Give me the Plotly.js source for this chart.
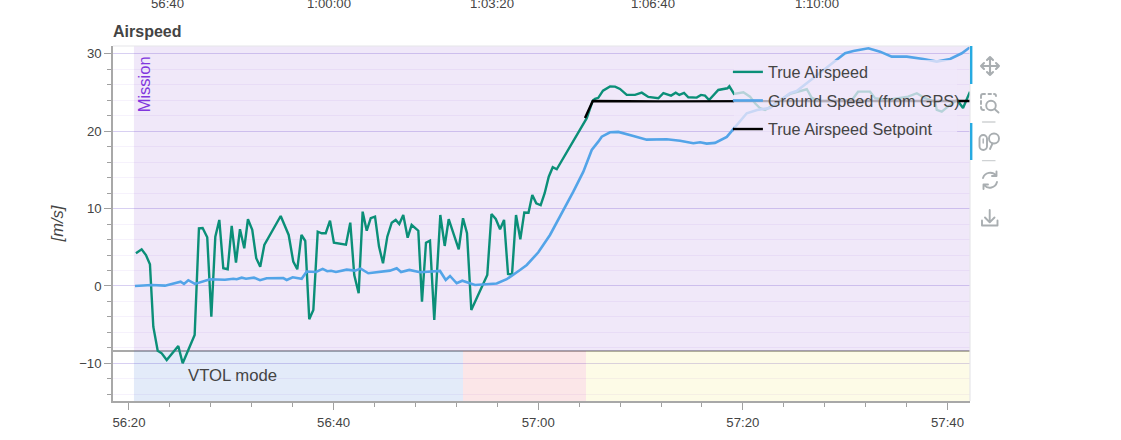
<!DOCTYPE html>
<html>
<head>
<meta charset="utf-8">
<script src="https://cdn.plot.ly/plotly-3.0.1.min.js"></script>
<style>html,body{margin:0;padding:0;background:#fff}#chart{width:1121px;height:440px}</style>
</head>
<body>
<div id="chart"></div>
<script>
// Time in seconds after 56:20
const tasT = [0.68,1.24,1.66,2.05,2.38,2.81,3.2,3.69,4.82,5.25,6.42,6.84,7.2,7.65,8.05,8.44,8.83,9.22,9.65,10.04,10.46,10.85,11.27,11.63,12.05,12.44,12.83,13.23,14.83,15.61,16.06,16.45,16.86,17.23,17.62,18.02,18.45,18.84,19.23,19.65,20.03,21.21,21.63,22.02,22.45,22.84,23.24,23.63,24.05,24.44,24.83,25.25,25.68,26.07,26.42,26.81,27.24,27.63,28.28,28.64,29.03,29.42,29.84,30.43,30.86,31.25,32.23,32.65,33.04,33.46,35.02,35.43,35.85,36.27,36.66,37.05,37.44,37.83,38.25,38.64,39.05,39.42,39.81,40.24,40.63,41.03,41.42,41.81,44.74,45.33,45.55,45.87,46.33,47.02,47.51,47.99,48.65,49.46,50.12,50.76,51.74,52.23,52.98,53.44,53.79,54.25,54.67,55.49,55.91,56.3,56.7,57.6,58.49,58.68,59.14,60.05,60.7,61.19,61.68,62.17,62.85,63.64,64.61,66.25,66.74,67.55,69.5,70.67,71.26,72.43,72.92,74.07,76.15,77.0,77.81,78.79,78.95,79.44,80.25,80.94,81.52,82.2];
const tasV = [4.22,4.74,4.0,2.8,-5.26,-8.36,-8.7,-9.56,-7.75,-9.99,-6.33,7.45,7.49,6.29,-3.97,6.37,8.53,2.29,2.16,7.75,3.01,7.33,4.87,8.62,7.24,3.58,2.49,5.3,9.04,6.59,3.14,2.16,6.59,5.81,-4.29,-3.1,7.02,6.81,6.81,8.44,5.59,5.34,8.18,1.42,-0.94,9.6,7.14,8.75,8.95,5.08,2.93,6.37,8.18,8.53,8.01,9.17,6.24,7.88,7.14,-2.03,5.59,5.85,-4.39,9.17,5.17,8.62,4.74,8.75,6.81,-3.1,1.42,9.3,8.66,7.33,8.53,1.55,1.49,9.17,6.03,9.5,9.47,11.76,10.68,10.43,11.98,14.12,15.34,15.08,21.67,23.94,24.16,24.3,25.23,25.78,25.75,25.45,24.68,24.68,24.97,24.42,24.25,24.9,24.59,24.97,24.68,24.94,24.38,24.33,24.68,24.59,24.03,25.32,25.54,25.8,24.81,25.03,24.46,23.6,22.96,22.74,23.26,24.03,24.81,25.41,24.29,23.9,23.9,24.03,25.1,25.1,24.25,24.03,24.46,24.9,24.25,23.81,22.74,22.52,23.39,24.03,23.0,25.1];
const gpsT = [0.59,2.22,3.52,4.17,5.05,5.38,5.8,6.45,7.11,7.92,9.38,10.2,10.53,11.02,11.44,12.22,12.81,13.46,15.08,15.42,16.0,16.88,17.37,18.28,18.93,19.38,19.75,20.23,21.28,22.09,22.65,23.39,25.51,26.17,26.59,27.4,28.45,30.4,30.96,31.38,32.03,32.58,33.82,35.94,36.92,37.57,38.22,38.88,40.01,41.15,42.3,43.43,44.41,45.23,45.87,46.21,47.02,47.83,49.3,50.6,52.56,53.86,55.16,55.82,56.47,57.28,58.43,59.07,60.38,61.39,62.66,64.61,65.26,66.86,69.18,69.99,70.8,72.27,73.41,74.55,76.02,77.64,78.95,80.25,81.4,82.2];
const gpsV = [0,0.13,0.04,0.3,0.56,0.26,0.74,0.26,0.56,0.87,0.81,0.94,0.87,1.07,0.94,1.07,0.74,1.0,1.03,0.78,1.12,0.92,1.87,1.81,2.2,1.9,1.96,1.81,2.11,1.98,2.24,1.64,1.98,2.29,1.81,2.07,1.77,1.94,0.78,1.29,0.35,0.68,0.13,0.32,0.87,1.42,2.07,2.71,4.35,6.59,9.39,12.18,14.77,17.57,18.64,19.29,19.86,19.9,19.38,18.9,18.95,18.77,18.44,18.57,18.39,18.48,19.25,20.28,22.31,22.74,23.0,24.9,25.19,26.83,29.29,30.06,30.36,30.71,30.27,29.63,29.63,29.33,28.98,29.33,30.06,30.84];
const setT = [44.57,45.33,52,60,70,82.2];
const setV = [21.7,23.9,23.85,23.9,23.9,23.9];

const seriesNames = ['True Airspeed','Ground Speed (from GPS)','True Airspeed Setpoint'];
const seriesColors = ['#0b8f78','#53a4e8','#000000'];
const xTickVals = [0,20,40,60,80];
const xTickText = ['56:20','56:40','57:00','57:20','57:40'];
const yTickVals = [-10,0,10,20,30];
const topLabels = ['56:40','1:00:00','1:03:20','1:06:40','1:10:00'];
const topLabelT = [3.81,19.55,35.5,51.2,67.2];
const modeStart = 0.49, modeEnd = 82.2;
const vtolStages = [[0.49,32.65,'rgba(60,110,215,0.14)'],[32.65,44.67,'rgba(225,60,75,0.13)'],[44.67,82.2,'rgba(240,225,60,0.12)']];
const modeSplit = -8.4;
const FONT = '"Liberation Sans", Arial, sans-serif';

const svg = `<svg xmlns="http://www.w3.org/2000/svg" width="40" height="190" viewBox="972 46 40 190"><g fill="none" stroke="#a9aeb1" stroke-width="1.9" stroke-linecap="round" stroke-linejoin="round">
<path d="M990 57V75M981 66H999M987 60L990 57L993 60M987 72L990 75L993 72M984 63L981 66L984 69M996 63L999 66L996 69" stroke-width="2.1"/>
<path d="M981 98V96Q981 94 983 94H985M988.5 94H991M994 94Q996 94 996 96M981 101V104M981 107Q981 110 983.5 110H984"/>
<circle cx="991" cy="105.5" r="4.8"/><path d="M994.5 109L998.5 112.5"/>
<path d="M982.5 122H995" stroke="#cfd2d4" stroke-width="1.3"/>
<rect x="979.5" y="135" width="7.5" height="15" rx="3.7"/><path d="M983.2 139V143" stroke-width="1.4"/>
<circle cx="994" cy="138.5" r="5"/><path d="M992.5 143.5L990 149"/>
<path d="M982.5 160.7H995" stroke="#cfd2d4" stroke-width="1.3"/>
<path d="M983 178A7.5 7.5 0 0 1 996 175.5M997 182A7.5 7.5 0 0 1 984 185M996.5 171.5V176H992M983.5 189V184.5H988"/>
<path d="M989.7 210V222M985 217.5L989.7 222.3L994.5 217.5M982 220.5V225.5H997.5V220.5"/>
</g></svg>`;

const traces = [
  {x:tasT,y:tasV,name:seriesNames[0],legendgroup:'a',mode:'lines',line:{color:seriesColors[0],width:2.4}},
  {x:gpsT,y:gpsV,name:seriesNames[1],legendgroup:'b',mode:'lines',line:{color:seriesColors[1],width:2.6}},
  {x:setT,y:setV,name:seriesNames[2],legendgroup:'c',mode:'lines',line:{color:seriesColors[2],width:2.4}}
];

const shapes = [
  {type:'rect',layer:'between',xref:'x',yref:'y',x0:modeStart,x1:modeEnd,y0:modeSplit,y1:31,fillcolor:'rgba(128,60,204,0.118)',line:{width:0}}
].concat(vtolStages.map(s=>({type:'rect',layer:'between',xref:'x',yref:'y',x0:s[0],x1:s[1],y0:-14.86,y1:modeSplit,fillcolor:s[2],line:{width:0}}))).concat([
  {type:'line',layer:'between',xref:'paper',yref:'y',x0:0,x1:1,y0:modeSplit,y1:modeSplit,line:{color:'#8c8c8c',width:1.3}},
  {type:'rect',layer:'above',xref:'x',yref:'y',x0:59.14,x1:80.94,y0:18.48,y1:29.2,fillcolor:'rgba(240,232,249,0.75)',line:{width:0}},
  {type:'line',layer:'above',xref:'paper',yref:'paper',x0:0,x1:1,y0:1,y1:1,line:{color:'#e6e6ea',width:1.2}},
  {type:'line',layer:'above',xref:'paper',yref:'paper',x0:1,x1:1,y0:0,y1:1,line:{color:'#e6e6ea',width:1.2}},
  {type:'rect',layer:'above',xref:'paper',yref:'paper',x0:1,x1:1.0028,y0:0.8930,y1:1,fillcolor:'#26aae1',line:{width:0}},
  {type:'rect',layer:'above',xref:'paper',yref:'paper',x0:1,x1:1.0028,y0:0.6789,y1:0.7831,fillcolor:'#26aae1',line:{width:0}}
]);

const annotations = topLabels.map((t,i)=>({text:t,xref:'x',yref:'paper',x:topLabelT[i],y:1.121,showarrow:false,xanchor:'center',yanchor:'middle',font:{family:FONT,size:13.2,color:'#444'}})).concat([
  {text:'Mission',xref:'x',yref:'y',x:1.43,y:26,textangle:-90,showarrow:false,xanchor:'center',yanchor:'middle',font:{family:FONT,size:16.5,color:'#8136dd'}},
  {text:'VTOL mode',xref:'x',yref:'y',x:5.57,y:-11.6,showarrow:false,xanchor:'left',yanchor:'middle',font:{family:FONT,size:16.7,color:'#444'}}
]);

const layout = {
  width:1121,height:440,autosize:false,
  margin:{l:113,r:151,t:46,b:39,pad:0},
  paper_bgcolor:'#fff',plot_bgcolor:'#fff',
  font:{family:FONT,size:13.2,color:'#444'},
  title:{text:'<b>Airspeed</b>',font:{family:FONT,size:16,color:'#444'},xref:'paper',x:0,xanchor:'left',yref:'container',y:0.928,yanchor:'middle'},
  xaxis:{range:[-1.56,82.2],tickmode:'array',tickvals:xTickVals,ticktext:xTickText,ticks:'outside',ticklen:7,tickwidth:1.2,tickcolor:'#a0a0a0',ticklabelstandoff:1,
    showgrid:false,zeroline:false,showline:true,linecolor:'#a8a8a8',linewidth:1.6,
    minor:{tick0:0,dtick:4,ticks:'outside',ticklen:4,tickwidth:1.2,tickcolor:'#a0a0a0',showgrid:false}},
  yaxis:{range:[-14.86,31],tickmode:'array',tickvals:yTickVals,ticks:'outside',ticklen:7,tickwidth:1.2,tickcolor:'#a0a0a0',
    showgrid:true,gridcolor:'#d8d0f2',gridwidth:1.3,zeroline:false,showline:true,linecolor:'#a8a8a8',linewidth:1.6,
    title:{text:'<i>[m/s]</i>',font:{family:FONT,size:16.5,color:'#444'},standoff:11},
    minor:{tick0:0,dtick:2,ticks:'outside',ticklen:4,tickwidth:1.2,tickcolor:'#a0a0a0',showgrid:true,gridcolor:'#f6f2fc',gridwidth:1.3}},
  showlegend:true,
  legend:{x:0.7175,y:0.975,xanchor:'left',yanchor:'top',bgcolor:'rgba(0,0,0,0)',borderwidth:0,itemwidth:30,tracegroupgap:4.5,traceorder:'grouped',font:{family:FONT,size:16.2,color:'#444'}},
  shapes:shapes,annotations:annotations,
  images:[{source:'data:image/svg+xml;utf8,'+encodeURIComponent(svg),xref:'paper',yref:'paper',x:859/857,y:1,sizex:40/857,sizey:190/355,sizing:'stretch',xanchor:'left',yanchor:'top',layer:'above'}]
};
Plotly.newPlot('chart',traces,layout,{displayModeBar:false,responsive:false});
</script>
</body>
</html>
